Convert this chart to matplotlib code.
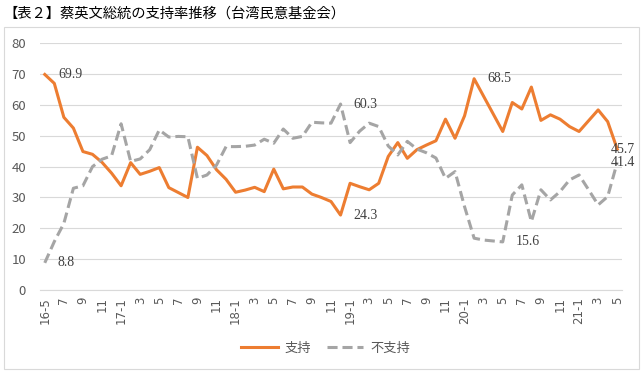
import matplotlib
matplotlib.use("Agg")
import matplotlib.pyplot as plt
from matplotlib.lines import Line2D
from matplotlib.patches import Rectangle
import numpy as np

plt.rcParams['font.family'] = ['Noto Sans CJK JP', 'DejaVu Sans']

title = "【表２】蔡英文総統の支持率推移（台湾民意基金会）"

# months from 2016-05 to 2021-05
years = [16, 17, 18, 19, 20, 21]
months = []
for y in years:
    for m in range(1, 13):
        if (y == 16 and m < 5) or (y == 21 and m > 5):
            continue
        months.append((y, m))
tick_labels = [f"{y}-{m}" if m == 1 or (y == 16 and m == 5) else str(m) for (y, m) in months]

support = [69.9, 67.0, 56.0, 52.5, 44.9, 44.0, 41.4, 37.9, 33.8, 41.3,
           37.5, 38.5, 39.7, 33.2, 31.6, 30.0, 46.3, 43.6, 39.0, 35.9,
           31.7, 32.4, 33.3, 31.9, 39.2, 32.8, 33.4, 33.4, 31.1, 30.0,
           28.7, 24.3, 34.6, 33.5, 32.5, 34.6, 43.3, 47.8, 42.7, 45.5,
           47.0, 48.4, 55.4, 49.2, 56.5, 68.5, 62.8, 57.1, 51.4, 60.8,
           58.7, 65.8, 55.0, 56.8, 55.4, 53.0, 51.4, 54.9, 58.4, 54.6,
           45.7]
oppose = [8.8, 15.7, 21.6, 33.0, 33.8, 40.0, 42.4, 43.5, 53.9, 41.7,
          42.5, 45.5, 51.9, 49.6, 49.8, 49.7, 36.2, 37.3, 40.5, 46.5,
          46.5, 46.6, 47.0, 48.9, 47.6, 52.2, 49.2, 49.8, 54.4, 54.2,
          54.1, 60.3, 47.8, 51.5, 54.1, 53.0, 46.7, 43.8, 48.2, 45.7,
          44.5, 42.8, 36.2, 38.4, 27.0, 16.8, 16.2, 15.9, 15.6, 30.8,
          34.1, 22.2, 32.5, 29.2, 31.9, 35.7, 37.3, 32.5, 27.6, 30.3,
          41.4]
series_names = ["支持", "不支持"]

# labelled points: (series index, month index)
labelled = [(0, 0), (1, 0), (1, 31), (0, 31), (0, 45), (1, 48)]
end_labels = [(0, 60), (1, 60)]

W, H = 644, 376
fig = plt.figure(figsize=(W / 100, H / 100), dpi=100)
fig.patches.append(Rectangle((4 / W, 1 - 369 / H), 635 / W, 342 / H,
                             transform=fig.transFigure, fill=False,
                             edgecolor='#D9D9D9', lw=0.8))
ax = fig.add_axes([40 / W, 1 - 290 / H, 582 / W, (290 - 43.3) / H])

x = np.arange(len(months))
orange = '#ED7D31'
gray = '#A5A5A5'
ax.plot(x, support, color=orange, lw=2.2, solid_joinstyle='round', zorder=3)
ax.plot(x, oppose, color=gray, lw=2.2, dashes=(3.3, 1.6), zorder=3)

ax.set_xlim(-0.5, len(months) - 0.5)
ax.set_ylim(0, 80)
ax.set_yticks(range(0, 81, 10))
ax.grid(axis='y', color='#D9D9D9', lw=0.8)
ax.set_axisbelow(True)
for s in ['top', 'right', 'left']:
    ax.spines[s].set_visible(False)
ax.spines['bottom'].set_color('#D9D9D9')
ax.spines['bottom'].set_linewidth(0.8)
ax.set_xticks(x[::2])
ax.set_xticklabels(tick_labels[::2], rotation=90, fontsize=8.5, color='#595959',
                   family=['DejaVu Sans'])
ax.tick_params(axis='both', length=0, colors='#595959')
ax.tick_params(axis='y', labelsize=9.5, pad=10)
ax.tick_params(axis='x', pad=5)

data = [support, oppose]
for si, mi in labelled:
    v = data[si][mi]
    ax.annotate(f"{v:.1f}", (mi, v), xytext=(9.5, 0), textcoords='offset points',
                ha='left', va='center', fontsize=10, color='#404040',
                family=['Liberation Serif'])
for si, mi in end_labels:
    v = data[si][mi]
    ax.annotate(f"{v:.1f}", (mi, v), xytext=(-5, 0), textcoords='offset points',
                ha='left', va='center', fontsize=10, color='#404040',
                family=['Liberation Serif'])

fig.text(3 / W, 1 - 14 / H, title, fontsize=10.3, color='#000000', va='center', ha='left')

handles = [Line2D([], [], color=orange, lw=2.2),
           Line2D([], [], color=gray, lw=2.2, dashes=(3.3, 1.6))]
fig.legend(handles, series_names, loc='center', bbox_to_anchor=(0.505, 1 - 348 / H),
           ncol=2, frameon=False, fontsize=9.5, handlelength=2.8, columnspacing=1.2,
           labelcolor='#595959', handletextpad=0.5)

fig.savefig("out.png", dpi=100)
